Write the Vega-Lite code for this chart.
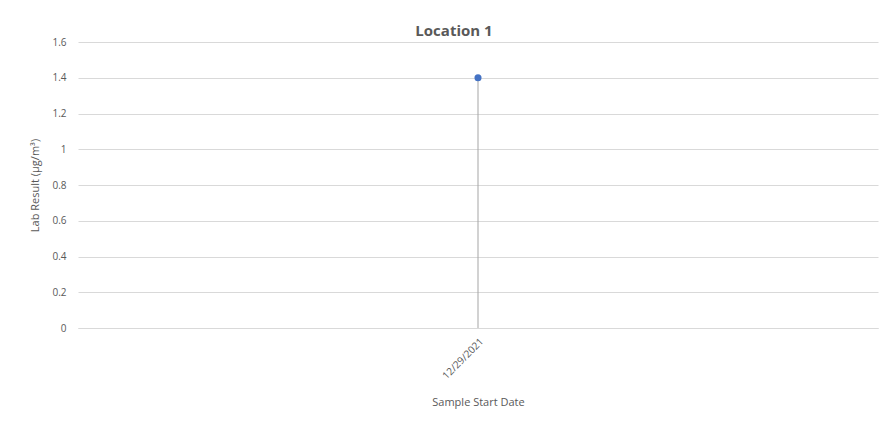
{
  "$schema": "https://vega.github.io/schema/vega-lite/v6.json",
  "autosize": {"type": "none"},
  "width": 800,
  "height": 286,
  "padding": {"left": 78, "top": 42, "right": 10, "bottom": 112},
  "background": "white",
  "config": {
    "font": "Open Sans",
    "view": {"stroke": null}
  },
  "title": {
    "text": "Location 1",
    "fontSize": 15,
    "fontWeight": "bold",
    "color": "#595959",
    "anchor": "middle",
    "frame": "bounds",
    "offset": -2
  },
  "data": {
    "values": [
      {"date": "12/29/2021", "result": 1.4}
    ]
  },
  "encoding": {
    "x": {
      "field": "date",
      "type": "ordinal",
      "scale": {"type": "point", "padding": 0.5},
      "axis": {
        "title": "Sample Start Date",
        "titleFontSize": 11,
        "titleFontWeight": "normal",
        "titleColor": "#595959",
        "titlePadding": 16,
        "labelAngle": -45,
        "labelFontSize": 10,
        "labelColor": "#595959",
        "labelPadding": 8,
        "ticks": false,
        "domain": true,
        "domainColor": "#d9d9d9",
        "grid": false
      }
    },
    "y": {
      "field": "result",
      "type": "quantitative",
      "scale": {"domain": [0, 1.6], "nice": false},
      "axis": {
        "title": "Lab Result (µg/m³)",
        "titleFontSize": 11,
        "titleFontWeight": "normal",
        "titleColor": "#595959",
        "titlePadding": 11,
        "values": [0, 0.2, 0.4, 0.6, 0.8, 1, 1.2, 1.4, 1.6],
        "format": "~g",
        "labelFontSize": 10,
        "labelColor": "#595959",
        "labelPadding": 12,
        "ticks": false,
        "domain": false,
        "grid": true,
        "gridColor": "#d9d9d9",
        "gridWidth": 1
      }
    }
  },
  "layer": [
    {
      "mark": {"type": "rule", "color": "#a5a5a5", "strokeWidth": 1},
      "encoding": {
        "y": {"datum": 0, "type": "quantitative"},
        "y2": {"field": "result"}
      }
    },
    {
      "mark": {"type": "point", "filled": true, "color": "#4472c4", "size": 50, "opacity": 1}
    }
  ]
}
